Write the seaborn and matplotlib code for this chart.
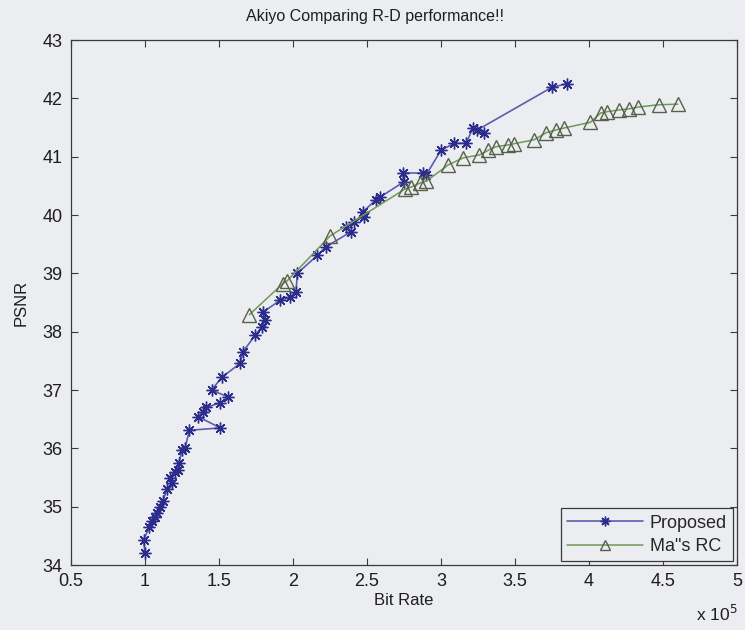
import matplotlib
matplotlib.use("Agg")
import matplotlib.pyplot as plt
import seaborn as sns
import pandas as pd

# Rate-distortion points (bit rate in units of 1e5 bps, PSNR in dB)
proposed_rate = [1.00, 0.99, 1.03, 1.05, 1.07, 1.08, 1.10, 1.12, 1.15, 1.18, 1.17, 1.20,
                 1.22, 1.23, 1.25, 1.27, 1.30, 1.51, 1.36, 1.39, 1.41, 1.51, 1.56, 1.45,
                 1.52, 1.645, 1.66, 1.745, 1.79, 1.81, 1.80, 1.915, 1.98, 2.02, 2.03,
                 2.165, 2.22, 2.39, 2.355, 2.41, 2.48, 2.47, 2.56, 2.59, 2.75, 2.74,
                 2.88, 2.90, 3.00, 3.09, 3.17, 3.215, 3.29, 3.24, 3.75, 3.85]
proposed_psnr = [34.20, 34.43, 34.65, 34.75, 34.82, 34.90, 35.00, 35.10, 35.30, 35.41, 35.50, 35.60,
                 35.63, 35.75, 35.97, 36.00, 36.31, 36.35, 36.54, 36.62, 36.70, 36.78, 36.88, 37.00,
                 37.22, 37.46, 37.65, 37.94, 38.08, 38.20, 38.34, 38.54, 38.59, 38.68, 39.00,
                 39.31, 39.45, 39.71, 39.79, 39.88, 39.97, 40.05, 40.26, 40.31, 40.57, 40.72,
                 40.72, 40.69, 41.11, 41.23, 41.23, 41.49, 41.41, 41.45, 42.19, 42.25]

ma_rate = [1.705, 1.93, 1.96, 2.25, 2.76, 2.80, 2.86, 2.90, 3.05, 3.15, 3.26, 3.32, 3.37,
           3.45, 3.49, 3.63, 3.71, 3.78, 3.83, 4.01, 4.08, 4.12, 4.20, 4.27, 4.33, 4.47, 4.60]
ma_psnr = [38.29, 38.82, 38.87, 39.64, 40.45, 40.48, 40.55, 40.58, 40.86, 40.98, 41.03, 41.11, 41.17,
           41.20, 41.22, 41.29, 41.41, 41.46, 41.49, 41.59, 41.75, 41.77, 41.80, 41.82, 41.85, 41.89, 41.90]

x_ticks = [0.5, 1, 1.5, 2, 2.5, 3, 3.5, 4, 4.5, 5]
x_ticklabels = ["0.5", "1", "1.5", "2", "2.5", "3", "3.5", "4", "4.5", "5"]
y_ticks = [34, 35, 36, 37, 38, 39, 40, 41, 42, 43]

sns.set_style("ticks")
plt.rcParams["font.family"] = ["Liberation Sans", "DejaVu Sans"]

bg = "#ecedf1"
fig = plt.figure(figsize=(7.45, 6.30), dpi=100, facecolor=bg)
ax = fig.add_axes([71 / 745, 1 - 565 / 630, (737 - 71) / 745, (565 - 40) / 630])
ax.set_facecolor(bg)

df_p = pd.DataFrame({"rate": proposed_rate, "psnr": proposed_psnr})
df_m = pd.DataFrame({"rate": ma_rate, "psnr": ma_psnr})

sns.lineplot(data=df_p, x="rate", y="psnr", sort=False, estimator=None, ax=ax,
             color="#5c5cae", lw=1.2, marker=(8, 2, 0), markersize=8.5,
             markeredgecolor="#2c2c8c", markeredgewidth=1.0, label="Proposed")
sns.lineplot(data=df_m, x="rate", y="psnr", sort=False, estimator=None, ax=ax,
             color="#6f9a55", lw=1.1, marker="^", markersize=10,
             markerfacecolor="none", markeredgecolor="#56604a", markeredgewidth=1.0,
             label='Ma"s RC')

ax.set_xlim(0.5, 5)
ax.set_ylim(34, 43)
ax.set_xticks(x_ticks)
ax.set_xticklabels(x_ticklabels)
ax.set_yticks(y_ticks)
ax.tick_params(direction="in", top=True, right=True, length=5, width=0.8,
               colors="#3a3a3a", labelsize=13, labelcolor="#1e1e1e", pad=6)
for s in ax.spines.values():
    s.set_visible(True)
    s.set_color("#3a3a3a")
    s.set_linewidth(0.9)

ax.set_xlabel("Bit Rate", fontsize=12, color="#1e1e1e", labelpad=2)
ax.set_ylabel("PSNR", fontsize=12, color="#1e1e1e", labelpad=10)
ax.set_title("Akiyo Comparing R-D performance!!", fontsize=11.5, color="#1e1e1e",
             x=0.457, pad=14)

fig.text(696 / 745, 1 - 621 / 630, r"x 10$^{5}$", fontsize=12.5, color="#1e1e1e",
         ha="left", va="baseline")

leg = ax.legend(loc="lower right", fontsize=13, frameon=True, fancybox=False,
                framealpha=1, facecolor=bg, edgecolor="#3a3a3a",
                handlelength=4.2, borderaxespad=0.2, labelspacing=0.35,
                borderpad=0.35, handletextpad=0.4)
leg.get_frame().set_linewidth(0.9)
for h in leg.legend_handles:
    h.set_markersize(7)

fig.savefig("out.png", dpi=100, facecolor=bg)
